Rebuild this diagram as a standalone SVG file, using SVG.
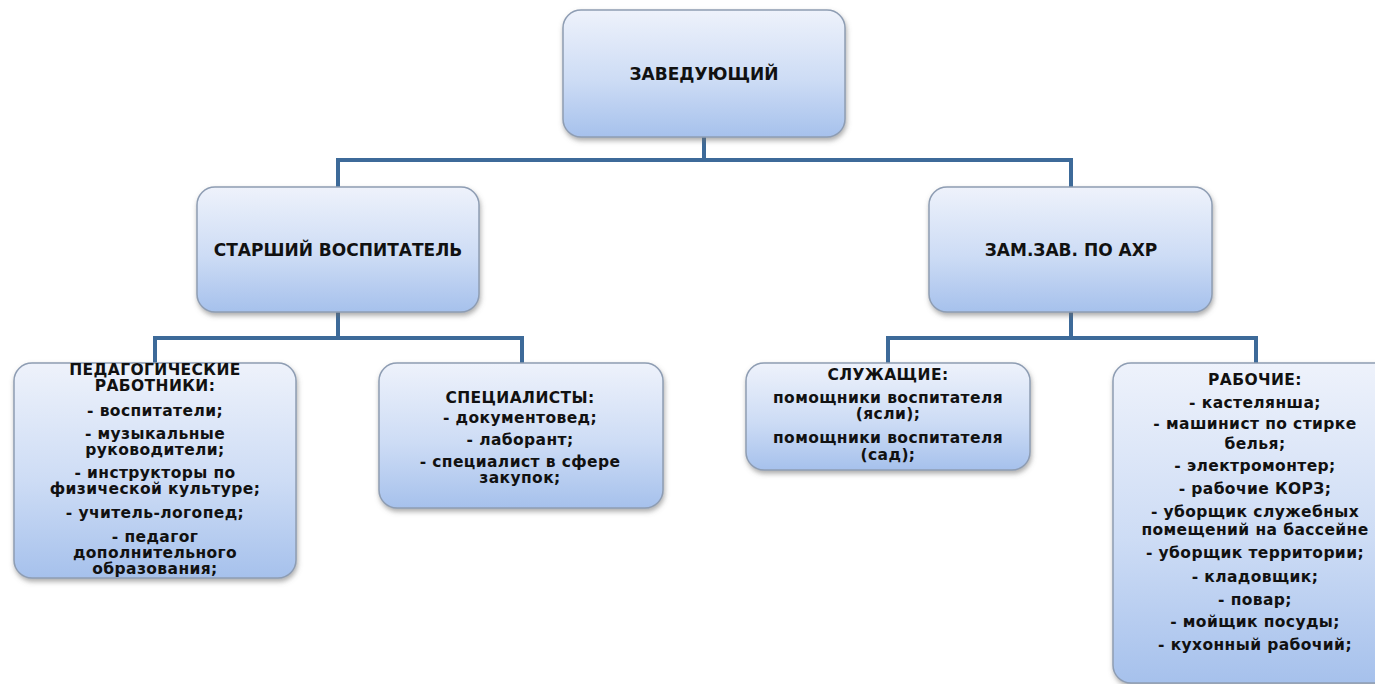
<svg xmlns="http://www.w3.org/2000/svg" width="1375" height="684" viewBox="0 0 1375 684">
<style>
.box{fill:url(#g);stroke:#8e9db3;stroke-width:1.5;filter:url(#sh)}
.t{font-family:"DejaVu Sans","Liberation Sans",sans-serif;font-weight:bold;fill:#111111;text-anchor:middle}
.h{font-size:17px}
.s{font-size:15.5px;letter-spacing:0.4px}
.c{fill:none;stroke:#3d6a99;stroke-width:4}
</style>
<defs>
<linearGradient id="g" x1="0" y1="0" x2="0" y2="1">
<stop offset="0" stop-color="#eef2fb"/>
<stop offset="0.55" stop-color="#cddcf5"/>
<stop offset="1" stop-color="#a6c1ec"/>
</linearGradient>
<filter id="sh" x="-10%" y="-10%" width="120%" height="130%">
<feDropShadow dx="1" dy="3" stdDeviation="2.5" flood-color="#6b6b6b" flood-opacity="0.55"/>
</filter>
</defs>
<rect width="1375" height="684" fill="#ffffff"/>
<g id="connectors">
<path class="c" d="M704 137V160M338 187V160H1071V187"/>
<path class="c" d="M338 312V338M155 363V338H522V363"/>
<path class="c" d="M1071 312V338M888 363V338H1256V363"/>
</g>
<g id="n-head">
<rect class="box" x="563" y="10" width="282" height="127" rx="18"/>
<text class="t h" x="704" y="80">ЗАВЕДУЮЩИЙ</text>
</g>
<g id="n-senior">
<rect class="box" x="197" y="187" width="282" height="125" rx="18"/>
<text class="t h" x="338" y="256">СТАРШИЙ ВОСПИТАТЕЛЬ</text>
</g>
<g id="n-deputy">
<rect class="box" x="929" y="187" width="283" height="125" rx="18"/>
<text class="t h" x="1071" y="256">ЗАМ.ЗАВ. ПО АХР</text>
</g>
<g id="n-ped">
<rect class="box" x="14" y="363" width="282" height="215" rx="18"/>
<text class="t s" x="155" y="375">ПЕДАГОГИЧЕСКИЕ</text>
<text class="t s" x="155" y="391">РАБОТНИКИ:</text>
<text class="t s" x="155" y="416">- воспитатели;</text>
<text class="t s" x="155" y="439">- музыкальные</text>
<text class="t s" x="155" y="455">руководители;</text>
<text class="t s" x="155" y="478">- инструкторы по</text>
<text class="t s" x="155" y="494">физической культуре;</text>
<text class="t s" x="155" y="518">- учитель-логопед;</text>
<text class="t s" x="155" y="542">- педагог</text>
<text class="t s" x="155" y="558">дополнительного</text>
<text class="t s" x="155" y="574">образования;</text>
</g>
<g id="n-spec">
<rect class="box" x="379" y="363" width="284" height="145" rx="18"/>
<text class="t s" x="520" y="403">СПЕЦИАЛИСТЫ:</text>
<text class="t s" x="520" y="423">- документовед;</text>
<text class="t s" x="520" y="445">- лаборант;</text>
<text class="t s" x="520" y="467">- специалист в сфере</text>
<text class="t s" x="520" y="483">закупок;</text>
</g>
<g id="n-staff">
<rect class="box" x="746" y="363" width="284" height="107" rx="18"/>
<text class="t s" x="888" y="380">СЛУЖАЩИЕ:</text>
<text class="t s" x="888" y="403">помощники воспитателя</text>
<text class="t s" x="888" y="419">(ясли);</text>
<text class="t s" x="888" y="443">помощники воспитателя</text>
<text class="t s" x="888" y="460">(сад);</text>
</g>
<g id="n-work">
<rect class="box" x="1113" y="363" width="284" height="320" rx="18"/>
<text class="t s" x="1255" y="385">РАБОЧИЕ:</text>
<text class="t s" x="1255" y="408">- кастелянша;</text>
<text class="t s" x="1255" y="429">- машинист по стирке</text>
<text class="t s" x="1255" y="449">белья;</text>
<text class="t s" x="1255" y="471">- электромонтер;</text>
<text class="t s" x="1255" y="494">- рабочие КОРЗ;</text>
<text class="t s" x="1255" y="517">- уборщик служебных</text>
<text class="t s" x="1255" y="535">помещений на бассейне</text>
<text class="t s" x="1255" y="558">- уборщик территории;</text>
<text class="t s" x="1255" y="582">- кладовщик;</text>
<text class="t s" x="1255" y="605">- повар;</text>
<text class="t s" x="1255" y="627">- мойщик посуды;</text>
<text class="t s" x="1255" y="650">- кухонный рабочий;</text>
</g>
</svg>
